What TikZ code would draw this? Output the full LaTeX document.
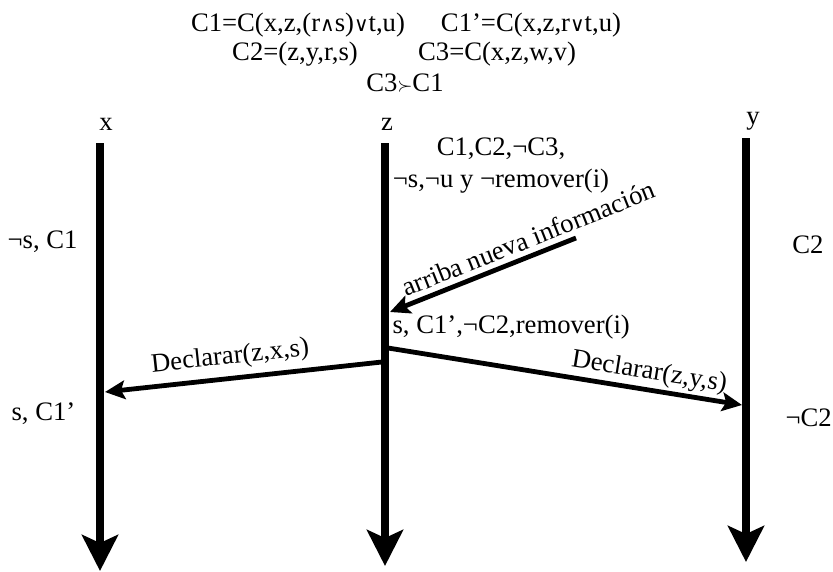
\documentclass[tikz,border=0pt]{standalone}
\usepackage{fontspec}
\setmainfont{Liberation Serif}
\newfontfamily\symf{DejaVu Serif}
\usetikzlibrary{arrows.meta,positioning,calc}
\newcommand{\opand}{{\symf\fontsize{15}{15}\selectfont ∧}}
\newcommand{\opor}{{\symf\fontsize{15}{15}\selectfont ∨}}
\newcommand{\opsucc}{{\fontsize{14}{14}\selectfont$\succ$}}
\tikzset{
  lifeline/.style={line width=6.5pt,-{Stealth[length=27pt,width=27pt,inset=6pt]}},
  msg/.style={line width=3.6pt,-{Stealth[length=15pt,width=14pt,inset=3pt]}},
  txt/.style={font=\fontsize{20}{22}\selectfont,inner sep=1pt},
}

\begin{document}
\begin{tikzpicture}[x=0.75pt,y=-0.75pt]
  \useasboundingbox (0,0) rectangle (833,572);
  % header
  \node[txt] (c1) at (298,25) {C1=C(x,z,(r\opand s)\opor t,u)};
  \node[txt] (c1p) at (531,25) {C1’=C(x,z,r\opor t,u)};
  \node[txt] (c2) at (295,54) {C2=(z,y,r,s)};
  \node[txt] (c3) at (497,54) {C3=C(x,z,w,v)};
  \node[txt] (ord) at (405,83) {C3\opsucc C1};
  % lifelines
  \foreach \n/\x/\t/\b/\lx/\ly in {x/100/143/571/106/124,
                                  z/385/143/566/387/124,
                                  y/746/138/562/753/121}{
    \coordinate (\n top) at (\x,\t);
    \coordinate (\n bot) at (\x,\b);
    \node[txt] (\n lab) at (\lx,\ly) {\n};
    \draw[lifeline] (\n top) -- (\n bot);}
  % states
  \node[txt,anchor=west] (sx1) at (6,242) {¬s, C1};
  \node[txt] (sy1) at (808,245) {C2};
  \node[txt,anchor=west] (sx2) at (10,414) {s, C1’};
  \node[txt,anchor=west] (sy2) at (784,418) {¬C2};
  \node[txt,align=center] (sz1) at (501,166) {C1,C2,¬C3,\\[2pt]¬s,¬u y ¬remover(i)};
  \node[txt,anchor=west] (sz2) at (391,327) {s, C1’,¬C2,remover(i)};
  % messages
  \coordinate (news) at (576,238);
  \coordinate (zin) at (390,312);
  \coordinate (zl) at (382,362);
  \coordinate (xin) at (105,392);
  \coordinate (zr) at (388,348);
  \coordinate (yin) at (742,405);
  \draw[msg] (news) -- node[txt,pos=0.22,sloped,above=3pt] (newslab) {arriba nueva información} (zin);
  \draw[msg] (zl) -- node[txt,pos=0.54,sloped,above=4pt] (declx) {Declarar(z,x,s)} (xin);
  \draw[msg] (zr) -- node[txt,pos=0.73,sloped,above=1pt] (decly) {Declarar(z,y,s)} (yin);
\end{tikzpicture}
\end{document}
